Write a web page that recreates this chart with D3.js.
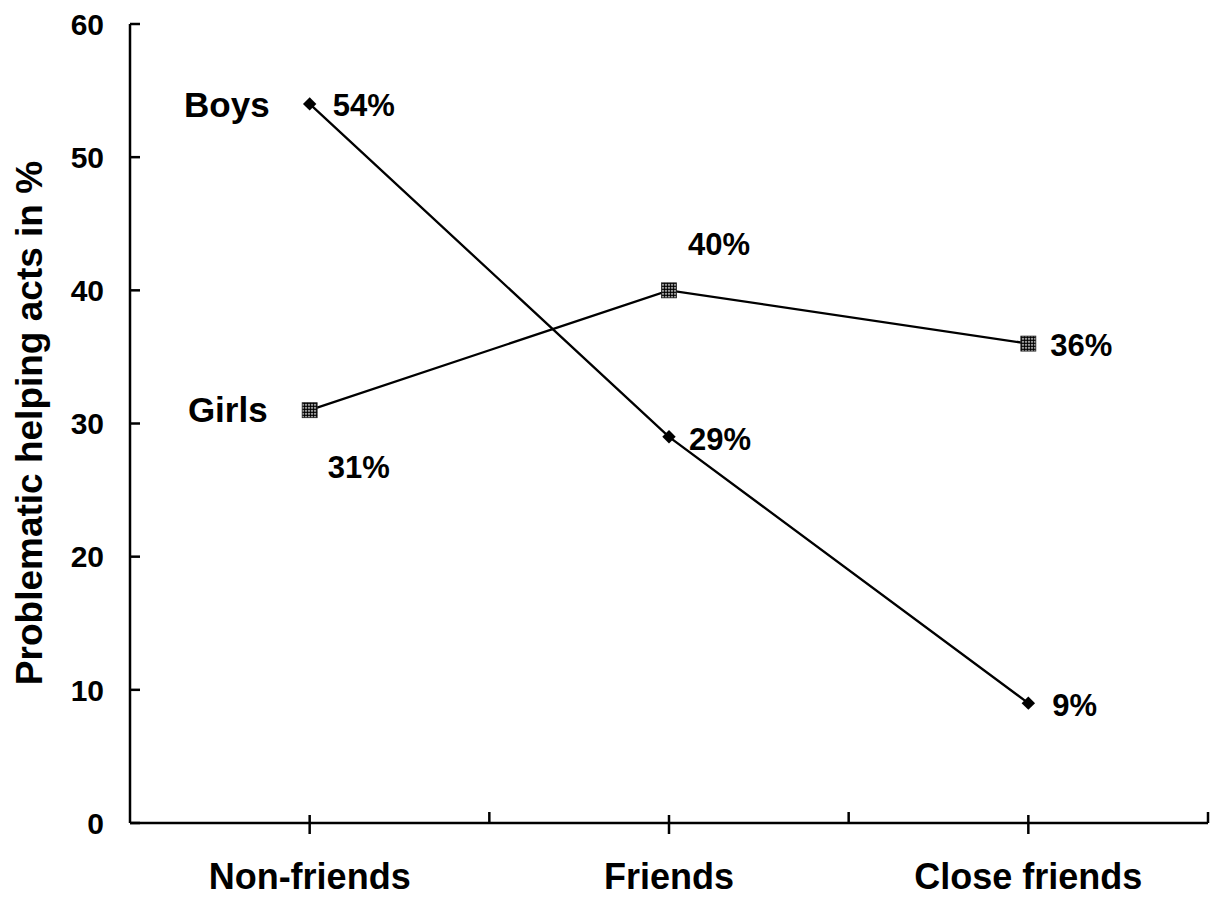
<!DOCTYPE html>
<html><head><meta charset="utf-8">
<script src="https://cdn.jsdelivr.net/npm/d3@7"></script>
<style>
html,body{margin:0;padding:0;background:#fff;}
svg{display:block;font-family:"Liberation Sans",Arial,Helvetica,sans-serif;font-weight:bold;}
</style></head>
<body><svg id="chart" width="1212" height="897"></svg>
<script>
const categories = ["Non-friends", "Friends", "Close friends"];
const boys = [54, 29, 9];
const girls = [31, 40, 36];
const yTicks = [0, 10, 20, 30, 40, 50, 60];
const yTitle = "Problematic helping acts in %";
const seriesNames = ["Boys", "Girls"];

// label placement (style), offsets from the data point
const boysLabelOff = [[23, 12], [20, 13], [24, 13]];
const girlsLabelOff = [[18, 68], [19, -35], [22, 12]];

const svg = d3.select("#chart");
const m = {left: 130, right: 1208, top: 24, bottom: 823};

const x = d3.scalePoint().domain(categories).range([m.left, m.right]).padding(0.5);
const xb = d3.scaleBand().domain(categories).range([m.left, m.right]).padding(0);
const y = d3.scaleLinear().domain([0, 60]).range([m.bottom, m.top]);

const g = svg.append("g");
g.append("line").attr("x1", m.left).attr("x2", m.left).attr("y1", y(60)).attr("y2", y(0))
  .attr("stroke", "#000").attr("stroke-width", 2.5);
g.append("line").attr("x1", m.left).attr("x2", m.right).attr("y1", y(0)).attr("y2", y(0))
  .attr("stroke", "#000").attr("stroke-width", 2.5);

g.selectAll(".yt").data(yTicks).join("line")
  .attr("x1", m.left).attr("x2", m.left + 10)
  .attr("y1", d => y(d)).attr("y2", d => y(d))
  .attr("stroke", "#000").attr("stroke-width", 2.5);
g.selectAll(".yl").data(yTicks).join("text")
  .attr("x", 104).attr("y", d => y(d)).attr("dy", "0.36em")
  .attr("text-anchor", "end").attr("font-size", 30).text(d => d);

g.selectAll(".xt").data(categories).join("line")
  .attr("x1", d => x(d)).attr("x2", d => x(d))
  .attr("y1", y(0) - 8).attr("y2", y(0) + 11)
  .attr("stroke", "#000").attr("stroke-width", 2.5);
const edges = categories.slice(1).map(c => xb(c)).concat([m.right]);
g.selectAll(".xe").data(edges).join("line")
  .attr("x1", d => d).attr("x2", d => d)
  .attr("y1", y(0) - 11).attr("y2", y(0))
  .attr("stroke", "#000").attr("stroke-width", 2.5);
g.selectAll(".xl").data(categories).join("text")
  .attr("x", d => x(d)).attr("y", 889)
  .attr("text-anchor", "middle").attr("font-size", 36).text(d => d);

g.append("text").attr("transform", "translate(42,423) rotate(-90)")
  .attr("text-anchor", "middle").attr("font-size", 37).text(yTitle);

const defs = svg.append("defs");
const pat = defs.append("pattern").attr("id", "dots").attr("patternUnits", "userSpaceOnUse")
  .attr("width", 3).attr("height", 3);
pat.append("rect").attr("width", 3).attr("height", 3).attr("fill", "#fff");
pat.append("circle").attr("cx", 1.5).attr("cy", 1.5).attr("r", 1.45).attr("fill", "#000");

const line = d3.line().x((d, i) => x(categories[i])).y(d => y(d));
g.append("path").datum(boys).attr("d", line).attr("fill", "none").attr("stroke", "#000").attr("stroke-width", 2.3);
g.append("path").datum(girls).attr("d", line).attr("fill", "none").attr("stroke", "#000").attr("stroke-width", 2.3);

g.selectAll(".bm").data(boys).join("path")
  .attr("transform", (d, i) => `translate(${x(categories[i])},${y(d)}) rotate(45)`)
  .attr("d", d3.symbol().type(d3.symbolSquare).size(90)).attr("fill", "#000");
g.selectAll(".gm").data(girls).join("rect")
  .attr("x", (d, i) => x(categories[i]) - 7.5).attr("y", d => y(d) - 7.5)
  .attr("width", 15).attr("height", 15).attr("fill", "url(#dots)")
  .attr("stroke", "#222").attr("stroke-width", 0.8);

g.selectAll(".bv").data(boys).join("text")
  .attr("x", (d, i) => x(categories[i]) + boysLabelOff[i][0])
  .attr("y", (d, i) => y(d) + boysLabelOff[i][1])
  .attr("font-size", 31).text(d => d + "%");
g.selectAll(".gv").data(girls).join("text")
  .attr("x", (d, i) => x(categories[i]) + girlsLabelOff[i][0])
  .attr("y", (d, i) => y(d) + girlsLabelOff[i][1])
  .attr("font-size", 31).text(d => d + "%");

g.append("text").attr("x", x(categories[0]) - 40).attr("y", y(boys[0]) + 13)
  .attr("text-anchor", "end").attr("font-size", 35).text(seriesNames[0]);
g.append("text").attr("x", x(categories[0]) - 42).attr("y", y(girls[0]) + 12)
  .attr("text-anchor", "end").attr("font-size", 35).text(seriesNames[1]);
</script></body></html>
